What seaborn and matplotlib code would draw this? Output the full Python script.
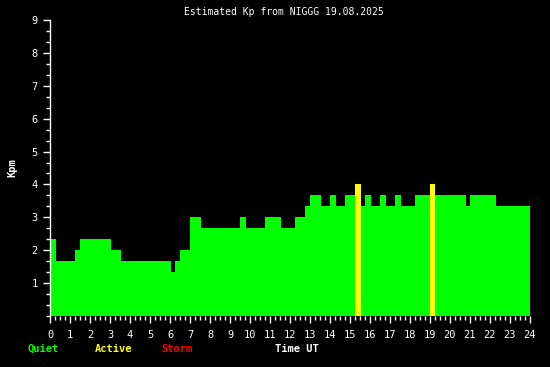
import matplotlib
matplotlib.use("Agg")
import matplotlib.pyplot as plt
import seaborn as sns
import numpy as np
import pandas as pd
from matplotlib.ticker import MultipleLocator

# --- data ---
seg_start = [0.0, 0.3, 1.25, 1.5, 3.05, 3.55, 6.05, 6.25, 6.5, 7.0, 7.55, 9.5,
             9.8, 10.75, 11.55, 12.25, 12.75, 13.0, 13.55, 14.0, 14.3, 14.75,
             15.25, 15.55, 15.75, 16.05, 16.5, 16.8, 17.25, 17.55, 18.25, 19.0,
             19.25, 20.8, 21.0, 22.3]
seg_end_last = 24.0
kp_values = [2.33, 1.67, 2.0, 2.33, 2.0, 1.67, 1.33, 1.67, 2.0, 3.0, 2.67, 3.0,
             2.67, 3.0, 2.67, 3.0, 3.33, 3.67, 3.33, 3.67, 3.33, 3.67,
             4.0, 3.33, 3.67, 3.33, 3.67, 3.33, 3.67, 3.33, 3.67, 4.0,
             3.67, 3.33, 3.67, 3.33]
x_ticks = list(range(0, 25))
y_ticks = list(range(1, 10))
level_names = ["Quiet", "Active", "Storm"]
level_colors = {"Quiet": "#00ff00", "Active": "#ffff00", "Storm": "#ff0000"}
title = "Estimated Kp from NIGGG 19.08.2025"


def level_of(k):
    if k >= 5:
        return "Storm"
    if k >= 4:
        return "Active"
    return "Quiet"


df = pd.DataFrame({"start": seg_start, "kp": kp_values})
df["level"] = [level_of(k) for k in kp_values]
edges = seg_start + [seg_end_last]
present = [l for l in level_names if l in set(df["level"])]

sns.set_style("dark")
plt.rcParams["font.family"] = ["DejaVu Sans Mono", "DejaVu Sans"]

fig = plt.figure(figsize=(5.5, 3.67), dpi=100, facecolor="black")
ax = fig.add_axes([50 / 550, 51 / 367, 480 / 550, 296 / 367])
ax.set_facecolor("black")

sns.histplot(data=df, x="start", weights="kp", bins=edges, hue="level",
             hue_order=present, palette={l: level_colors[l] for l in present},
             multiple="layer", alpha=1, linewidth=0, legend=False,
             antialiased=False, ax=ax)

ax.set_xlim(0, 24)
ax.set_ylim(0, 9)
ax.set_xticks(x_ticks)
ax.set_xticklabels([str(t) for t in x_ticks])
ax.set_yticks(y_ticks)
ax.set_yticklabels([str(t) for t in y_ticks])
ax.xaxis.set_minor_locator(MultipleLocator(0.25))
ax.yaxis.set_minor_locator(MultipleLocator(1 / 3))
ax.grid(False)
for s in ["top", "right", "bottom"]:
    ax.spines[s].set_visible(False)
ax.spines["left"].set_visible(True)
ax.spines["left"].set_color("white")
ax.spines["left"].set_linewidth(1)
ax.tick_params(axis="both", which="both", colors="white", direction="out",
               labelsize=7.5, width=1, bottom=True, left=True)
ax.tick_params(axis="both", which="major", length=5)
ax.tick_params(axis="both", which="minor", length=3)
ax.tick_params(axis="x", which="major", pad=5)
ax.tick_params(axis="y", which="major", pad=4)
ax.set_xlabel("")
ax.set_ylabel("Kpm", color="white", fontsize=7.5, fontweight="bold", labelpad=10)

fig.text(284 / 550, 1 - 12 / 367, title, color="white", fontsize=7,
         ha="center", va="center")
legend_x = {"Quiet": 28, "Active": 95, "Storm": 161}
for name in level_names:
    fig.text(legend_x[name] / 550, 1 - 349 / 367, name, color=level_colors[name],
             fontsize=7.5, fontweight="bold", ha="left", va="center")
fig.text(275 / 550, 1 - 349 / 367, "Time UT", color="white", fontsize=7.5,
         fontweight="bold", ha="left", va="center")

fig.savefig("out.png", dpi=100, facecolor="black")
